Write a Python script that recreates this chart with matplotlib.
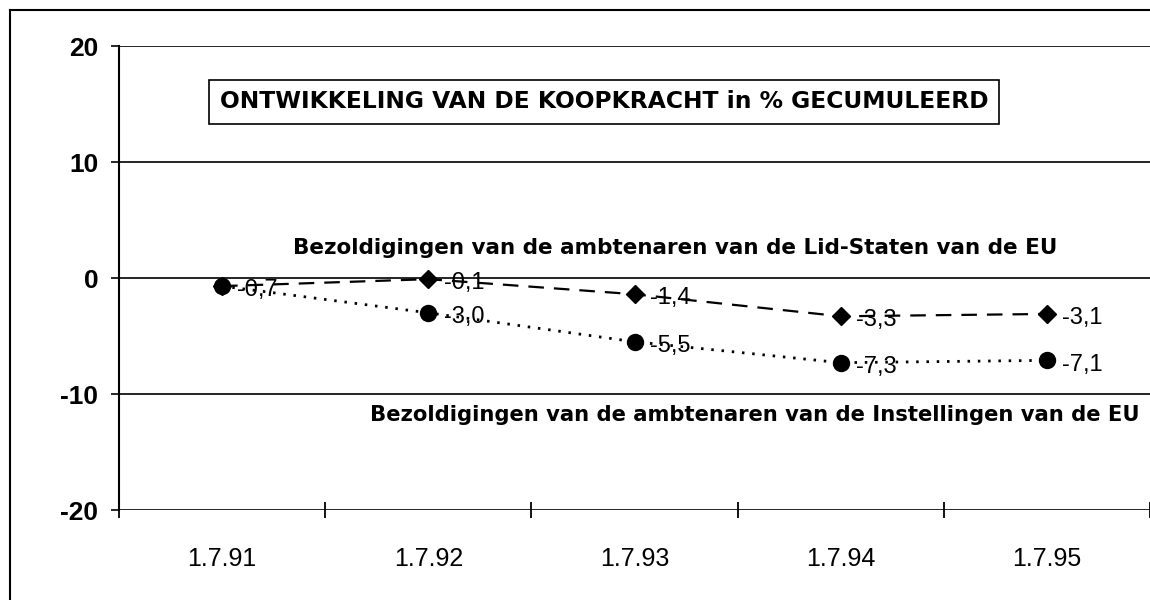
import matplotlib.pyplot as plt
from matplotlib.lines import Line2D

plt.rcParams['font.family'] = ['Liberation Sans', 'DejaVu Sans']

# Koopkracht data (% gecumuleerd)
periods = ['1.7.91', '1.7.92', '1.7.93', '1.7.94', '1.7.95']
lid_staten = [-0.7, -0.1, -1.4, -3.3, -3.1]
instellingen = [-0.7, -3.0, -5.5, -7.3, -7.1]
y_ticks = [-20, -10, 0, 10, 20]

fig = plt.figure(figsize=(11.5, 6), dpi=100)
ax = fig.add_axes([119 / 1150, 90 / 600, 1 - 119 / 1150, 464 / 600])

x = list(range(len(periods)))

# horizontal grid lines
for yv in y_ticks:
    ax.axhline(yv, color='black', lw=1.2, zorder=1)

ax.plot(x, lid_staten, color='black', lw=1.6, linestyle=(0, (7, 4.5)),
        marker='D', markersize=9, zorder=3)
ax.plot(x, instellingen, color='black', lw=2, linestyle=(0, (0.9, 2.8)),
        marker='o', markersize=11.5, zorder=3)


def fmt(v):
    return ('%.1f' % v).replace('.', ',')


# data labels (first point shares one label)
for i, v in enumerate(lid_staten):
    if i == 0:
        continue
    ax.annotate(fmt(v), (i, v), xytext=(11, -3), textcoords='offset points',
                ha='left', va='center', fontsize=17, zorder=4)
for i, v in enumerate(instellingen):
    ax.annotate(fmt(v), (i, v), xytext=(11, -3), textcoords='offset points',
                ha='left', va='center', fontsize=17, zorder=4)

ax.set_xlim(-0.5, 4.485)
ax.set_ylim(-20, 20)

for side in ['top', 'right', 'bottom']:
    ax.spines[side].set_visible(False)
ax.spines['left'].set_linewidth(1.5)

ax.set_yticks(y_ticks)
ax.set_yticklabels([str(t) for t in y_ticks], fontsize=19, fontweight='bold')
ax.tick_params(axis='y', length=6, width=1.2, pad=9)

ax.set_xticks(x)
ax.set_xticklabels(periods, fontsize=18)
ax.tick_params(axis='x', length=0, pad=27)
ax.set_xticks([i - 0.5 for i in range(len(periods) + 1)], minor=True)
ax.tick_params(axis='x', which='minor', direction='inout', length=12, width=1.3)

# title box
fig.text(604 / 1150, 1 - 102 / 600,
         'ONTWIKKELING VAN DE KOOPKRACHT in % GECUMULEERD',
         ha='center', va='center', fontsize=16.8, fontweight='bold',
         family='DejaVu Sans',
         bbox=dict(boxstyle='square,pad=0.45', fc='white', ec='black', lw=1.2))

fig.text(293 / 1150, 1 - 248 / 600,
         'Bezoldigingen van de ambtenaren van de Lid-Staten van de EU',
         ha='left', va='center', fontsize=15.5, fontweight='bold',
         family='DejaVu Sans')
fig.text(1140 / 1150, 1 - 415 / 600,
         'Bezoldigingen van de ambtenaren van de Instellingen van de EU',
         ha='right', va='center', fontsize=15.2, fontweight='bold',
         family='DejaVu Sans')

# outer frame
fig.add_artist(Line2D([10 / 1150, 10 / 1150], [0, 1 - 10 / 600],
                      transform=fig.transFigure, color='black', lw=1.5))
fig.add_artist(Line2D([10 / 1150, 1], [1 - 10 / 600, 1 - 10 / 600],
                      transform=fig.transFigure, color='black', lw=1.5))

fig.savefig('out.png', dpi=100)
